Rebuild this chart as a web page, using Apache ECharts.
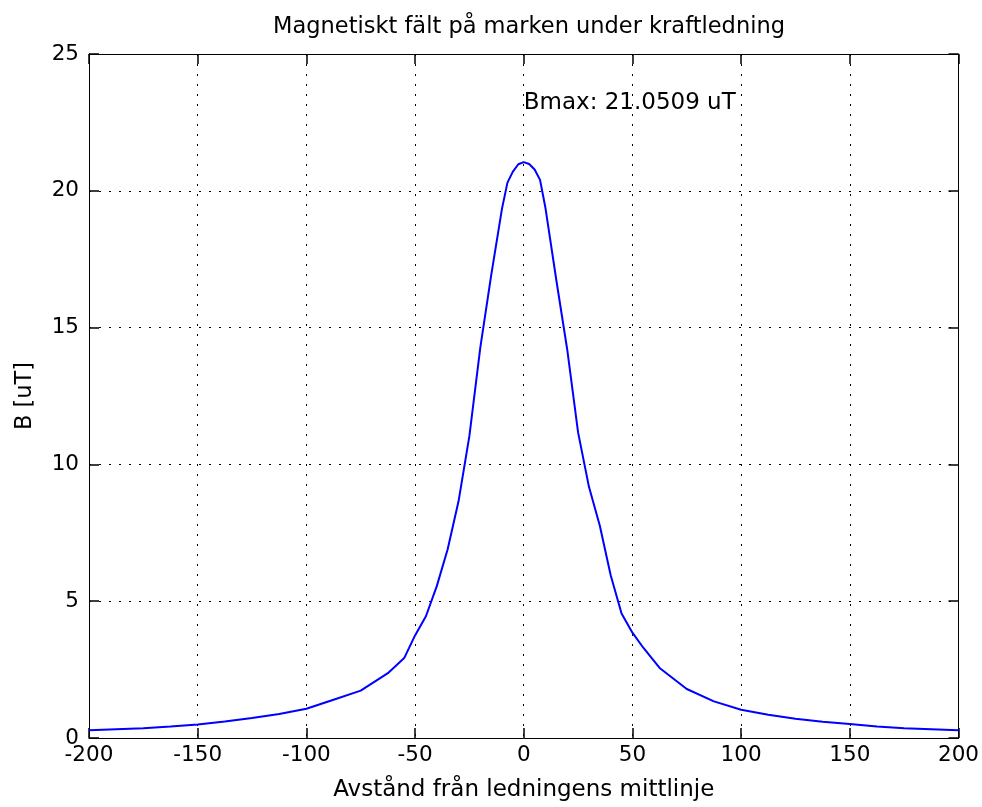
<!DOCTYPE html>
<html>
<head>
<meta charset="utf-8">
<title>Magnetiskt fält</title>
<script src="https://cdn.jsdelivr.net/npm/echarts@6.0.0/dist/echarts.min.js"></script>
<style>
    html, body { margin: 0; padding: 0; background: #fff; }
    #j-chart { width: 982px; height: 807px; }
</style>
</head>
<body>
<div id="j-chart"></div>
<script>
// avstånd [m] och fältstyrka [uT]
var distance = [-200, -187.5, -175, -162.5, -150, -137.5, -125, -112.5, -100, -87.5, -75, -62.5, -55,
    -50, -45, -40, -35, -30, -25, -20, -15, -10, -7.5, -5, -2.5, 0, 2.5, 5, 7.5, 10, 15, 20, 25, 30, 35, 40, 45, 50,
    55, 62.5, 75, 87.5, 100, 112.5, 125, 137.5, 150, 162.5, 175, 187.5, 200];
var fieldB = [0.28, 0.32, 0.36, 0.42, 0.49, 0.60, 0.73, 0.88, 1.07, 1.40, 1.73, 2.37, 2.92,
    3.75, 4.45, 5.55, 6.9, 8.65, 11.04, 14.26, 16.9, 19.35, 20.3, 20.7, 20.97, 21.05, 20.98, 20.78, 20.4, 19.37,
    16.73, 14.2, 11.17, 9.18, 7.76, 5.95, 4.55, 3.85,
    3.3, 2.56, 1.79, 1.34, 1.03, 0.85, 0.70, 0.59, 0.51, 0.42, 0.36, 0.32, 0.28];

var xTicks = [-200, -150, -100, -50, 0, 50, 100, 150, 200];
var yTicks = [0, 5, 10, 15, 20, 25];

var peakText = ['Bmax: 21.0509 uT'];
var peakPos = [0, 23.2];

var points = [];
for (var i = 0; i < distance.length; i++) {
    points.push([distance[i], fieldB[i]]);
}

var fontMain = 'DejaVu Sans';

var gridDots = {
    show: true,
    lineStyle: { color: '#000', width: 1, type: [2, 8] }
};

function mainAxis(ticks, extra) {
    var ax = {
        type: 'value',
        min: ticks[0],
        max: ticks[ticks.length - 1],
        interval: ticks[1] - ticks[0],
        axisLine: { show: true, onZero: false, lineStyle: { color: '#000', width: 1 } },
        axisTick: { show: true, inside: true, length: 10, lineStyle: { color: '#000', width: 1.5 } },
        splitLine: gridDots
    };
    for (var k in extra) { ax[k] = extra[k]; }
    return ax;
}

function mirrorAxis(ticks, pos) {
    return {
        type: 'value',
        position: pos,
        min: ticks[0],
        max: ticks[ticks.length - 1],
        interval: ticks[1] - ticks[0],
        axisLine: { show: true, onZero: false, lineStyle: { color: '#000', width: 1 } },
        axisTick: { show: true, inside: true, length: 10, lineStyle: { color: '#000', width: 1.5 } },
        axisLabel: { show: false },
        splitLine: { show: false }
    };
}

var option = {
    backgroundColor: '#fff',
    animation: false,
    title: {
        text: 'Magnetiskt fält på marken under kraftledning',
        left: 524,
        top: 11,
        textAlign: 'center',
        textStyle: { color: '#000', fontFamily: fontMain, fontSize: 22.5, fontWeight: 'normal' }
    },
    grid: {
        left: 89,
        right: 20,
        top: 54,
        bottom: 69
    },
    xAxis: [
        mainAxis(xTicks, {
            position: 'bottom',
            name: 'Avstånd från ledningens mittlinje',
            nameLocation: 'middle',
            nameGap: 41,
            nameTextStyle: { color: '#000', fontFamily: fontMain, fontSize: 23 },
            axisLabel: { color: '#000', fontFamily: fontMain, fontSize: 21.5, margin: 6 }
        }),
        mirrorAxis(xTicks, 'top')
    ],
    yAxis: [
        mainAxis(yTicks, {
            position: 'left',
            name: 'B [uT]',
            nameLocation: 'middle',
            nameGap: 52,
            nameTextStyle: { color: '#000', fontFamily: fontMain, fontSize: 22.5 },
            axisLabel: { color: '#000', fontFamily: fontMain, fontSize: 21.5, margin: 10 }
        }),
        mirrorAxis(yTicks, 'right')
    ],
    series: [
        {
            name: 'B',
            type: 'line',
            data: points,
            showSymbol: false,
            symbol: 'none',
            smooth: false,
            lineStyle: { color: '#0000ff', width: 2 }
        },
        {
            // bara texten vid toppen, ingen markör
            name: 'Bmax',
            type: 'scatter',
            data: [peakPos],
            symbolSize: 0,
            itemStyle: { opacity: 1 },
            label: {
                show: true,
                position: 'right',
                distance: 0,
                formatter: peakText[0],
                color: '#000',
                opacity: 1,
                fontFamily: fontMain,
                fontSize: 23
            },
            silent: true
        }
    ]
};

var myChart = echarts.init(document.getElementById('j-chart'), null, { renderer: 'canvas' });
myChart.setOption(option);
</script>
</body>
</html>
